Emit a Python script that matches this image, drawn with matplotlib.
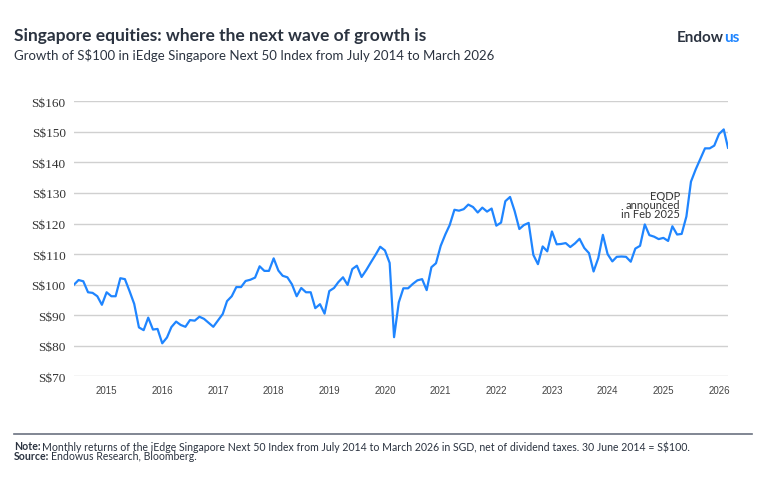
import pandas as pd
import matplotlib.pyplot as plt

# Growth of S$100, monthly, June 2014 (=100) to March 2026
valores = [
    100.0, 101.5, 101.1, 97.5, 97.3, 96.2, 93.4, 97.5, 96.2, 96.2,
    102.1, 101.8, 97.8, 93.7, 86.0, 85.1, 89.2, 85.3, 85.5, 80.8,
    82.7, 86.1, 87.9, 86.8, 86.2, 88.4, 88.2, 89.5, 88.8, 87.5,
    86.2, 88.3, 90.4, 94.6, 96.2, 99.2, 99.2, 101.2, 101.6, 102.3,
    106.0, 104.5, 104.5, 108.6, 104.6, 102.9, 102.4, 100.1, 96.2, 98.9,
    97.5, 97.5, 92.3, 93.6, 90.5, 97.9, 98.9, 100.8, 102.4, 99.9,
    105.1, 106.2, 102.5, 104.8, 107.3, 109.8, 112.4, 111.2, 107.1, 82.8,
    94.2, 98.8, 98.8, 100.2, 101.4, 101.8, 98.2, 105.7, 107.0, 112.7,
    116.5, 119.5, 124.5, 124.2, 124.7, 126.2, 125.4, 123.6, 125.2, 123.9,
    124.9, 119.3, 120.3, 127.3, 128.7, 124.1, 118.2, 119.5, 120.2, 109.7,
    106.7, 112.5, 110.9, 117.4, 113.2, 113.3, 113.6, 112.3, 113.5, 115.0,
    112.0, 110.3, 104.3, 108.7, 116.3, 110.0, 107.6, 109.1, 109.2, 109.1,
    107.5, 111.8, 112.7, 119.7, 116.2, 115.7, 114.9, 115.3, 114.3, 119.1,
    116.4, 116.6, 122.3, 133.7, 137.7, 141.2, 144.6, 144.6, 145.5, 149.3,
    150.8, 144.8,
]
datas = pd.date_range('2014-06-01', periods=len(valores), freq='MS')

anos = list(range(2015, 2027))
niveis_y = list(range(70, 161, 10))
rotulos_y = [f'S${v}' for v in niveis_y]

titulo = 'Singapore equities: where the next wave of growth is'
subtitulo = 'Growth of S$100 in iEdge Singapore Next 50 Index from July 2014 to March 2026'
nota = 'Monthly returns of the iEdge Singapore Next 50 Index from July 2014 to March 2026 in SGD, net of dividend taxes. 30 June 2014 = S$100.'
fonte = 'Endowus Research, Bloomberg.'
anotacao = 'EQDP\nannounced\nin Feb 2025'

azul = '#1f85ff'
escuro = '#2b3340'

fig = plt.figure(figsize=(7.73, 4.85), dpi=100)
ax = fig.add_axes([74 / 773, 1 - 377.3 / 485, 654 / 773, 275 / 485])

ax.plot(datas, valores, color=azul, lw=1.6)
ax.set_xlim(datas[0], datas[-1])
ax.set_ylim(70, 160)

ax.set_yticks(niveis_y)
ax.set_yticklabels(rotulos_y, family='Liberation Serif', fontsize=9.5, color='#333333')
ax.set_xticks([pd.Timestamp(f'{a}-01-01') for a in anos])
ax.set_xticklabels([str(a) for a in anos], family='Liberation Sans', fontsize=7, color='#444444')
ax.tick_params(axis='both', length=0)
ax.tick_params(axis='y', pad=6)
ax.tick_params(axis='x', pad=6)
ax.grid(axis='y', color='#d0d0d0', lw=1)
ax.set_axisbelow(True)
for s in ax.spines.values():
    s.set_visible(False)

ax.annotate(anotacao, xy=(pd.Timestamp('2025-02-01'), 119), xytext=(680 / 773, 1 - 220 / 485),
            textcoords='figure fraction', ha='right', va='bottom', family='Lato',
            fontsize=8, color='#333333', linespacing=0.8)

# cabecalho
fig.text(14 / 773, 1 - 36 / 485, titulo, family='Lato', weight='bold', fontsize=12.5,
         color=escuro, va='center')
fig.text(14 / 773, 1 - 55 / 485, subtitulo, family='Lato', fontsize=9.5,
         color=escuro, va='center')

r = fig.canvas.get_renderer()
# logo em duas cores, lado a lado
fig.text(724 / 773, 1 - 38 / 485, 'Endow', family='Lato', weight='bold', fontsize=11,
         color=escuro, va='center', ha='right')
fig.text(724 / 773, 1 - 38 / 485, 'us', family='Lato', weight='bold', fontsize=11,
         color=azul, va='center', ha='left')

# rodape
fig.add_artist(plt.Line2D([14 / 773, 752 / 773], [1 - 435 / 485] * 2, color='#6b7280', lw=1.2))
for y, rot, txt in [(447, 'Note:', nota), (457, 'Source:', fonte)]:
    tb = fig.text(14 / 773, 1 - y / 485, rot, family='Lato', weight='bold', fontsize=7.6,
                  color=escuro, va='center')
    bb = tb.get_window_extent(r)
    fig.text(bb.x1 / fig.bbox.width + 0.002, 1 - y / 485, txt, family='Lato', fontsize=7.6,
             color=escuro, va='center')

fig.savefig('out.png', dpi=100)
